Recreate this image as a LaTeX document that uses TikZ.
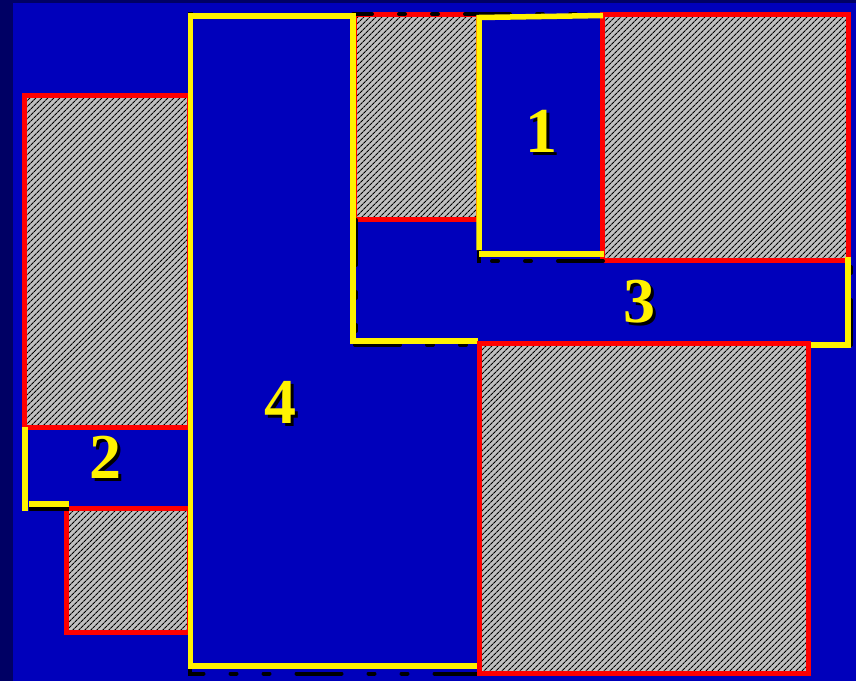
\documentclass[tikz,border=0pt]{standalone}
\usepackage{fontspec}
\setmainfont{Liberation Serif}
\usetikzlibrary{patterns.meta}
\definecolor{bgblue}{RGB}{0,0,187}
\definecolor{bgnavy}{RGB}{0,0,100}
\definecolor{hatchgray}{RGB}{192,192,192}
\tikzset{
  used/.style={draw=red,line width=5pt,preaction={fill=hatchgray},
    pattern={Lines[angle=45,distance=4pt,line width=1.2pt]},pattern color=black},
  free/.style={draw=yellow,line width=5.5pt},
  shadowline/.style={draw=black,line width=4pt,line cap=round,
    dash pattern=on 45pt off 27pt on 6pt off 27pt on 6pt off 27pt},
  solidshadow/.style={draw=black,line width=4pt},
  lbl/.style={inner sep=0pt,font=\bfseries\fontsize{64}{64}\selectfont},
}

\begin{document}
\begin{tikzpicture}[x=1pt,y=-1pt]
  % background
  \fill[bgnavy] (0,0) rectangle (856,681);
  \fill[bgblue] (13,3) rectangle (856,681);
  \useasboundingbox (0,0) rectangle (856,681);

  % occupied blocks
  \draw[used] (24.5,95.5) rectangle (189,427);
  \draw[used] (66.5,508.5) rectangle (189,632);
  \draw[used] (354,14) rectangle (478,219.5);
  \draw[used] (602.5,14) rectangle (848.5,260.5);

  % shadows of the free areas
  \draw[shadowline,dash phase=26pt] (353,14) -- (600,14);
  \draw[solidshadow] (190,17) -- (190,14) -- (193,14);
  \draw[shadowline,dash phase=48pt] (479,250) -- (479,261) -- (604,261);
  \draw[solidshadow] (479,250) -- (479,261) -- (481,261);
  \draw[shadowline] (356,220) -- (356,345);
  \draw[shadowline] (355,345) -- (480,345);
  \draw[solidshadow] (807,346) -- (849,346);
  \draw[shadowline] (851,345) -- (851,258);
  \draw[shadowline,dash phase=23pt] (190,665) -- (190,673.5) -- (480,673.5);
  \draw[solidshadow] (29,509) -- (69,509);

  % free areas
  \draw[free] (478,341) -- (353,341) -- (353,16) -- (190.5,16)
    -- (190.5,666) -- (478,666);
  \draw[free] (479,250) -- (479,17.5) -- (603,15.5);
  \draw[free] (479,254) -- (604,254);
  \draw[free] (808,345) -- (848,345) -- (848,257);
  \draw[free] (25,427) -- (25,511);
  \draw[free] (29,504) -- (69,504);

  \draw[used] (479.5,343.5) rectangle (808.5,673.5);

  % labels
  \node[lbl,text=black] at (544,134) {1};
  \node[lbl,text=yellow] (n1) at (541,131) {1};
  \node[lbl,text=black] at (108,460) {2};
  \node[lbl,text=yellow] (n2) at (105,457) {2};
  \node[lbl,text=black] at (642,305) {3};
  \node[lbl,text=yellow] (n3) at (639,302) {3};
  \node[lbl,text=black] at (283,405) {4};
  \node[lbl,text=yellow] (n4) at (280,402) {4};
\end{tikzpicture}
\end{document}
